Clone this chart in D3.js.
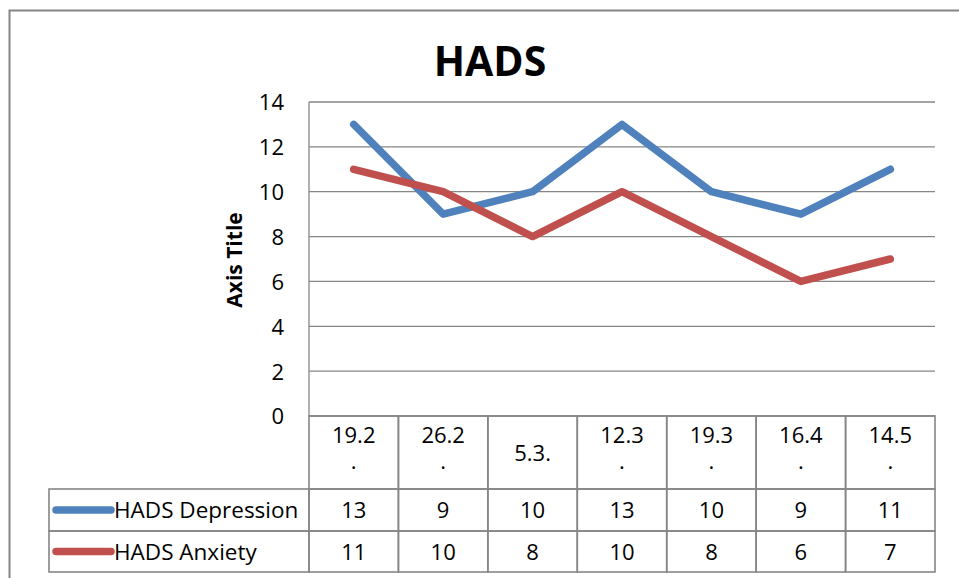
<!DOCTYPE html>
<meta charset="utf-8">
<style>
body { margin: 0; background: #fff; }
svg text { font-family: "Open Sans", "Noto Sans", sans-serif; fill: #000; }
.grid line { stroke: #868686; stroke-width: 1.3px; }
.cell { fill: none; stroke: #868686; stroke-width: 1.6px; }
</style>
<body>
<script src="https://cdn.jsdelivr.net/npm/d3@7/dist/d3.min.js"></script>
<script>

var categories = [["19.2", "."], ["26.2", "."], ["5.3."], ["12.3", "."], ["19.3", "."], ["16.4", "."], ["14.5", "."]];
var seriesNames = ["HADS Depression", "HADS Anxiety"];
var depression = [13, 9, 10, 13, 10, 9, 11];
var anxiety = [11, 10, 8, 10, 8, 6, 7];
var yTicks = [0, 2, 4, 6, 8, 10, 12, 14];
var colors = ["#4f81bd", "#c0504d"];

var width = 959, height = 578;

var svg = d3.select("body").append("svg")
    .attr("width", width)
    .attr("height", height);

// chart frame
svg.append("rect")
    .attr("x", 9.5).attr("y", 10.5)
    .attr("width", 960).attr("height", 600)
    .attr("fill", "none").attr("stroke", "#868686").attr("stroke-width", 2);

var plotLeft = 309, plotRight = 935, plotTop = 102, plotBottom = 416;

var x = d3.scaleBand()
    .domain(d3.range(categories.length))
    .range([plotLeft, plotRight]);

var y = d3.scaleLinear()
    .domain([0, 14])
    .range([plotBottom, plotTop]);

svg.append("text")
    .attr("x", 490).attr("y", 76)
    .attr("text-anchor", "middle")
    .style("font-size", "41px").style("font-weight", "bold")
    .text("HADS");

// gridlines
svg.append("g").attr("class", "grid")
  .selectAll("line")
  .data(yTicks)
  .enter().append("line")
    .attr("x1", plotLeft).attr("x2", plotRight)
    .attr("y1", function(d) { return y(d); })
    .attr("y2", function(d) { return y(d); });

svg.append("line")
    .attr("x1", plotLeft).attr("x2", plotLeft)
    .attr("y1", plotTop).attr("y2", plotBottom)
    .attr("stroke", "#868686").attr("stroke-width", 1.3);

var yAxis = svg.append("g")
    .attr("transform", "translate(284,0)")
    .call(d3.axisLeft(y).tickValues(yTicks).tickSize(0).tickPadding(0));
yAxis.select(".domain").remove();
yAxis.selectAll("text")
    .style("font-size", "22px")
    .style("font-family", "'Open Sans', sans-serif")
    .attr("dy", "0.36em");

svg.append("text")
    .attr("transform", "translate(242,260)rotate(-90)")
    .attr("text-anchor", "middle")
    .style("font-size", "21px").style("font-weight", "bold")
    .text("Axis Title");

// lines
var line = d3.line()
    .x(function(d, i) { return x(i) + x.bandwidth() / 2; })
    .y(function(d) { return y(d); });

[depression, anxiety].forEach(function(s, k) {
  svg.append("path")
      .datum(s)
      .attr("d", line)
      .attr("fill", "none")
      .attr("stroke", colors[k])
      .attr("stroke-width", 7.5)
      .attr("stroke-linecap", "round")
      .attr("stroke-linejoin", "round");
});

// data table
var rowTop = [416, 489, 531], rowBottom = [489, 531, 572], tableLeft = 49;

var table = svg.append("g");

categories.forEach(function(c, i) {
  table.append("rect").attr("class", "cell")
      .attr("x", x(i)).attr("y", rowTop[0])
      .attr("width", x.bandwidth()).attr("height", rowBottom[0] - rowTop[0]);
  var cx = x(i) + x.bandwidth() / 2;
  if (c.length === 1) {
    table.append("text")
        .attr("text-anchor", "middle")
        .style("font-size", "22px")
        .attr("x", cx).attr("y", 461).text(c[0]);
  } else {
    c.forEach(function(s, j) {
      table.append("text")
          .attr("text-anchor", "middle")
          .style("font-size", "22px")
          .attr("x", cx)
          .attr("y", 443 + j * 26)
          .text(s);
    });
  }
});

[depression, anxiety].forEach(function(s, k) {
  var r = k + 1;
  var cy = (rowTop[r] + rowBottom[r]) / 2;
  table.append("rect").attr("class", "cell")
      .attr("x", tableLeft).attr("y", rowTop[r])
      .attr("width", plotLeft - tableLeft).attr("height", rowBottom[r] - rowTop[r]);
  table.append("line")
      .attr("x1", 56).attr("x2", 111)
      .attr("y1", cy).attr("y2", cy)
      .attr("stroke", colors[k]).attr("stroke-width", 7.5)
      .attr("stroke-linecap", "round");
  table.append("text")
      .attr("x", 114).attr("y", cy + 8)
      .style("font-size", "22.5px")
      .text(seriesNames[k]);
  s.forEach(function(v, i) {
    table.append("rect").attr("class", "cell")
        .attr("x", x(i)).attr("y", rowTop[r])
        .attr("width", x.bandwidth()).attr("height", rowBottom[r] - rowTop[r]);
    table.append("text")
        .attr("x", x(i) + x.bandwidth() / 2)
        .attr("y", cy + 8)
        .attr("text-anchor", "middle")
        .style("font-size", "22px")
        .text(v);
  });
});

</script>
</body>
